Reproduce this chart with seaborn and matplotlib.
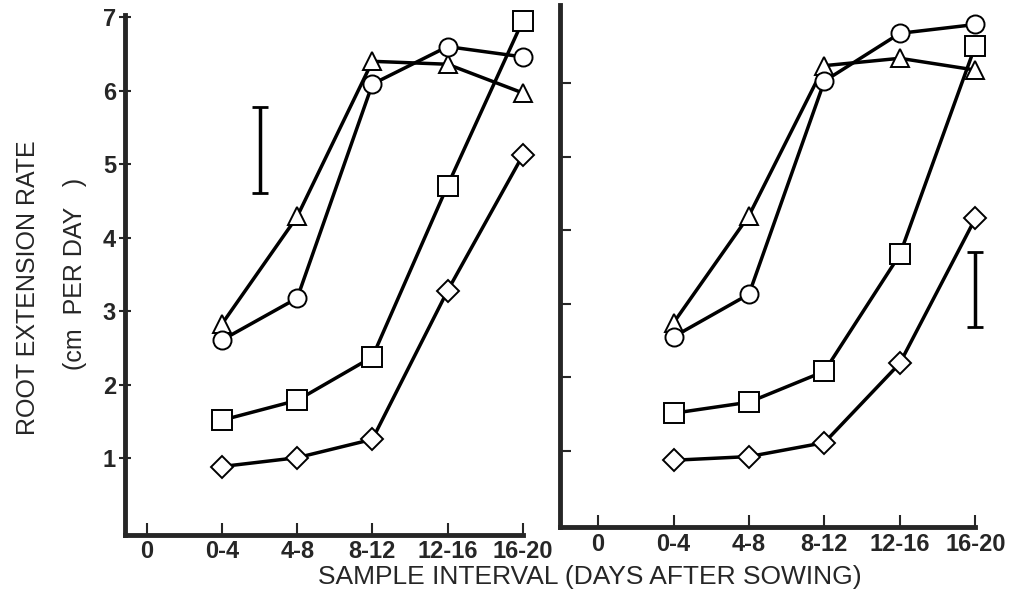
import numpy as np
import pandas as pd
import matplotlib
matplotlib.use('Agg')
import matplotlib.pyplot as plt
import seaborn as sns

# sample intervals (x categories), 0 is an empty tick
intervals = ['0', '0-4', '4-8', '8-12', '12-16', '16-20']
x_pos = [1, 2, 3, 4, 5]

# left panel values
left_triangle = [2.83, 4.29, 6.40, 6.36, 5.97]
left_circle = [2.61, 3.18, 6.09, 6.60, 6.46]
left_square = [1.52, 1.79, 2.38, 4.71, 6.95]
left_diamond = [0.89, 1.01, 1.26, 3.28, 5.12]
left_lsd_x = 1.5
left_lsd = [4.61, 5.78]

# right panel values
right_triangle = [2.74, 4.20, 6.24, 6.34, 6.18]
right_circle = [2.55, 3.13, 6.03, 6.68, 6.80]
right_square = [1.51, 1.66, 2.08, 3.67, 6.51]
right_diamond = [0.87, 0.92, 1.11, 2.19, 4.16]
right_lsd_x = 5.0
right_lsd = [2.68, 3.71]

markers = {'triangle': '^', 'circle': 'o', 'square': 's', 'diamond': 'D'}
msizes = {'triangle': 13, 'circle': 13, 'square': 14, 'diamond': 11}

sns.set_style('ticks')
plt.rcParams['font.family'] = ['Liberation Sans', 'DejaVu Sans']

fig = plt.figure(figsize=(10.17, 5.99), dpi=100)
ax1 = fig.add_axes([0.123, 0.107, 0.391, 0.868])
ax2 = fig.add_axes([0.551, 0.12, 0.408, 0.871])

def draw_panel(ax, series, lsd_x, lsd, xlim, ylim):
  for name, vals in series.items():
    d = pd.DataFrame({'x': x_pos, 'y': vals})
    sns.lineplot(data=d, x='x', y='y', ax=ax, color='black', lw=2.5,
                 marker=markers[name], markersize=msizes[name],
                 markerfacecolor='white', markeredgecolor='black',
                 markeredgewidth=1.4, clip_on=False)
  # least significant difference bar
  ax.errorbar([lsd_x], [np.mean(lsd)], yerr=[(lsd[1] - lsd[0]) / 2],
              color='black', lw=2.5, capsize=6, capthick=2, clip_on=False)
  ax.set_xlim(*xlim)
  ax.set_ylim(*ylim)
  ax.set_xticks(range(len(intervals)))
  ax.set_xticklabels(intervals, fontsize=17, fontweight='bold')
  ax.set_xlabel('')
  ax.set_ylabel('')
  for s in ['top', 'right']:
    ax.spines[s].set_visible(False)
  ax.spines['left'].set_linewidth(3.5)
  ax.spines['bottom'].set_linewidth(3.5)
  ax.tick_params(axis='x', direction='in', length=9, width=1.5, pad=4)

draw_panel(ax1, {'triangle': left_triangle, 'circle': left_circle,
                 'square': left_square, 'diamond': left_diamond},
           left_lsd_x, left_lsd, (-0.29, 5.0), (-0.04, 7.03))
ax1.set_yticks(range(1, 8))
ax1.set_yticklabels([str(v) for v in range(1, 8)], fontsize=17, fontweight='bold')
ax1.tick_params(axis='y', direction='inout', length=9, width=1.5, pad=2)

draw_panel(ax2, {'triangle': right_triangle, 'circle': right_circle,
                 'square': right_square, 'diamond': right_diamond},
           right_lsd_x, right_lsd, (-0.5, 5.0), (-0.04, 7.06))
ax2.set_yticks(range(1, 7))
ax2.set_yticklabels([])
ax2.tick_params(axis='y', direction='in', length=8, width=1.5)

fig.text(28 / 1017, 1 - 288 / 599, 'ROOT EXTENSION RATE', rotation=90,
         ha='center', va='center', fontsize=18)
fig.text(75 / 1017, 1 - 274 / 599, '(cm  PER DAY   )', rotation=90,
         ha='center', va='center', fontsize=18)
fig.text(590 / 1017, 1 - 577 / 599, 'SAMPLE INTERVAL (DAYS AFTER SOWING)',
         ha='center', va='center', fontsize=19)

fig.savefig('out.png', dpi=100)
